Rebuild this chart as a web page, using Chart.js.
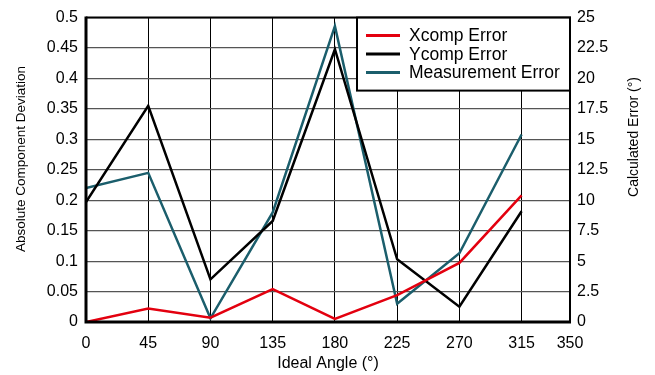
<!DOCTYPE html>
<html>
<head>
<meta charset="utf-8">
<script src="https://cdn.jsdelivr.net/npm/chart.js@4.4.1/dist/chart.umd.min.js"></script>
<style>
html,body{margin:0;padding:0;background:#fff;}
#wrap{position:relative;width:655px;height:375px;}
</style>
</head>
<body>
<div id="wrap"><canvas id="c" width="655" height="375"></canvas></div>
<script>
// ---- data ----
const angles = [0, 45, 90, 135, 180, 225, 270, 315];
const xcompError = [0.000, 0.022, 0.007, 0.054, 0.005, 0.044, 0.097, 0.208];
const ycompError = [0.197, 0.355, 0.070, 0.166, 0.448, 0.103, 0.025, 0.182];
const measurementError = [11.0, 12.25, 0.3, 9.0, 24.3, 1.5, 5.65, 15.4];
const xTicks = [0, 45, 90, 135, 180, 225, 270, 315, 350];
const leftTicks = ['0', '0.05', '0.1', '0.15', '0.2', '0.25', '0.3', '0.35', '0.4', '0.45', '0.5'];
const rightTicks = ['0', '2.5', '5', '7.5', '10', '12.5', '15', '17.5', '20', '22.5', '25'];
const seriesNames = ['Xcomp Error', 'Ycomp Error', 'Measurement Error'];
const seriesColors = ['#e3000f', '#000000', '#1b5e6c'];
const xTitle = 'Ideal Angle (°)';
const leftTitle = 'Absolute Component Deviation';
const rightTitle = 'Calculated Error (°)';

const FONT = "'Liberation Sans', Arial, sans-serif";
const pts = (xs, ys) => xs.map((x, i) => ({x: x, y: ys[i]}));

function vText(ctx, text, x, y, size) {
  ctx.save();
  ctx.translate(x, y);
  ctx.rotate(-Math.PI / 2);
  ctx.textAlign = 'center';
  ctx.textBaseline = 'middle';
  ctx.fillStyle = '#000';
  ctx.font = size + 'px ' + FONT;
  ctx.fillText(text, 0, 0);
  ctx.restore();
}

const framePlugin = {
  id: 'frame',
  afterDraw(chart) {
    const {ctx, chartArea: a} = chart;
    ctx.save();
    ctx.strokeStyle = '#000';
    ctx.lineWidth = 2;
    ctx.beginPath();
    ctx.moveTo(a.left, a.top); ctx.lineTo(a.right, a.top); ctx.lineTo(a.right, a.bottom);
    ctx.stroke();
    ctx.lineWidth = 3;
    ctx.beginPath();
    ctx.moveTo(a.left, a.top - 1); ctx.lineTo(a.left, a.bottom); ctx.lineTo(a.right + 1, a.bottom);
    ctx.stroke();

    // legend box
    const bx = 357, by = a.top, bw = a.right - 357, bh = 73;
    ctx.fillStyle = '#fff';
    ctx.fillRect(bx, by, bw, bh);
    ctx.lineWidth = 2;
    ctx.strokeRect(bx, by, bw, bh);
    ctx.font = '17.5px ' + FONT;
    ctx.textBaseline = 'middle';
    ctx.textAlign = 'left';
    chart.data.datasets.forEach((ds, i) => {
      const y = by + 18 + i * 18.5;
      ctx.strokeStyle = ds.borderColor;
      ctx.lineWidth = 3;
      ctx.beginPath(); ctx.moveTo(366, y); ctx.lineTo(400, y); ctx.stroke();
      ctx.fillStyle = '#000';
      ctx.fillText(ds.label, 409, y + 1);
    });

    vText(ctx, leftTitle, 21, 159, 13.5);
    vText(ctx, rightTitle, 634, 137, 14);
    ctx.restore();
  }
};

new Chart(document.getElementById('c'), {
  type: 'line',
  data: {
    datasets: [
      {label: seriesNames[0], data: pts(angles, xcompError), borderColor: seriesColors[0], yAxisID: 'y', borderWidth: 2.5},
      {label: seriesNames[1], data: pts(angles, ycompError), borderColor: seriesColors[1], yAxisID: 'y', borderWidth: 2.5},
      {label: seriesNames[2], data: pts(angles, measurementError), borderColor: seriesColors[2], yAxisID: 'y2', borderWidth: 2.5}
    ]
  },
  options: {
    responsive: false,
    animation: false,
    devicePixelRatio: 1,
    layout: {padding: {top: 15, left: 0, right: 0, bottom: 0}},
    elements: {point: {radius: 0, hoverRadius: 0}, line: {tension: 0, fill: false}},
    plugins: {legend: {display: false}, tooltip: {enabled: false}},
    scales: {
      x: {
        type: 'linear', min: 0, max: 350,
        afterBuildTicks: s => { s.ticks = xTicks.map(v => ({value: v})); },
        afterFit: s => { s.height = 53; },
        grid: {color: '#000', lineWidth: 1, drawTicks: false},
        border: {display: false},
        ticks: {padding: 12, color: '#000', font: {family: FONT, size: 16}, maxRotation: 0, autoSkip: false,
                callback: v => String(v)},
        title: {display: true, text: xTitle, color: '#000', font: {family: FONT, size: 16}, padding: {top: 0, bottom: 2}}
      },
      y: {
        position: 'left', min: 0, max: 0.5,
        afterBuildTicks: s => { s.ticks = leftTicks.map(t => ({value: parseFloat(t)})); },
        afterFit: s => { s.width = 86; },
        grid: {color: '#555', lineWidth: 1.2, drawTicks: false},
        border: {display: false},
        ticks: {padding: 8, color: '#000', font: {family: FONT, size: 16},
                callback: (v, i) => leftTicks[i]},
        title: {display: false}
      },
      y2: {
        position: 'right', min: 0, max: 25,
        afterBuildTicks: s => { s.ticks = rightTicks.map(t => ({value: parseFloat(t)})); },
        afterFit: s => { s.width = 85; },
        grid: {display: false, drawTicks: false},
        border: {display: false},
        ticks: {padding: 7, color: '#000', font: {family: FONT, size: 16},
                callback: (v, i) => rightTicks[i]},
        title: {display: false}
      }
    }
  },
  plugins: [framePlugin]
});
</script>
</body>
</html>
